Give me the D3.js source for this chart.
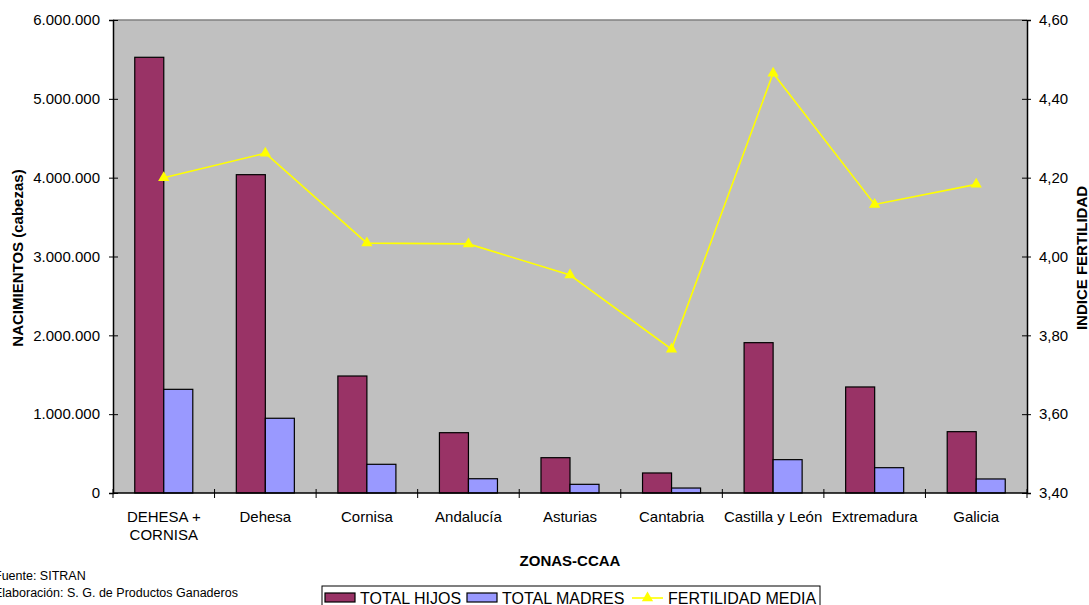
<!DOCTYPE html>
<html>
<head>
<meta charset="utf-8">
<script src="https://cdn.jsdelivr.net/npm/d3@7"></script>
<style>
  body { margin: 0; background: #fff; }
  svg { font-family: "Liberation Sans", Arial, sans-serif; }
</style>
</head>
<body>
<div id="chart"></div>
<script>
// data
var zonas = ["DEHESA + CORNISA", "Dehesa", "Cornisa", "Andalucía", "Asturias", "Cantabria", "Castilla y León", "Extremadura", "Galicia"];
var totalHijos = [5527000, 4038000, 1484000, 765000, 448000, 254000, 1907000, 1345000, 778000];
var totalMadres = [1315000, 948000, 364000, 181000, 110000, 63000, 423000, 321000, 178000];
var fertilidad = [4.20, 4.262, 4.034, 4.032, 3.953, 3.765, 4.465, 4.132, 4.183];
var leftTicks = [0, 1000000, 2000000, 3000000, 4000000, 5000000, 6000000];
var rightTicks = [3.40, 3.60, 3.80, 4.00, 4.20, 4.40, 4.60];

var W = 1089, H = 605;
var margin = {top: 20, right: 62, bottom: 112, left: 113},
    width = W - margin.left - margin.right,
    height = H - margin.top - margin.bottom;

var loc = d3.formatLocale({decimal: ",", thousands: ".", grouping: [3], currency: ["", "€"]});
var fmtLeft = loc.format(",d"),
    fmtRight = loc.format(".2f");

var svg = d3.select("#chart").append("svg")
    .attr("width", W)
    .attr("height", H);

var g = svg.append("g")
    .attr("transform", "translate(" + margin.left + "," + margin.top + ")");

var x = d3.scaleBand().domain(zonas).range([0, width]);
var y = d3.scaleLinear().domain([0, 6000000]).range([height, 0]);
var y2 = d3.scaleLinear().domain([3.4, 4.6]).range([height, 0]);
// two bars per category, gap width 150%
var barW = x.bandwidth() / 3.5;
var x1 = d3.scaleBand().domain(["hijos", "madres"]).range([0, barW * 2]);

// plot area
g.append("rect")
    .attr("width", width)
    .attr("height", height)
    .attr("fill", "#c0c0c0");
g.append("line")
    .attr("x1", 0).attr("x2", width)
    .attr("y1", 0).attr("y2", 0)
    .attr("stroke", "#808080").attr("stroke-width", 1.5);

var groups = g.selectAll(".grupo")
    .data(zonas)
    .enter().append("g")
    .attr("class", "grupo")
    .attr("transform", function (d) { return "translate(" + (x(d) + (x.bandwidth() - barW * 2) / 2) + ",0)"; });

groups.append("rect")
    .attr("x", x1("hijos"))
    .attr("width", x1.bandwidth())
    .attr("y", function (d, i) { return y(totalHijos[i]); })
    .attr("height", function (d, i) { return height - y(totalHijos[i]); })
    .attr("fill", "#993366")
    .attr("stroke", "#000").attr("stroke-width", 1.2);

groups.append("rect")
    .attr("x", x1("madres"))
    .attr("width", x1.bandwidth())
    .attr("y", function (d, i) { return y(totalMadres[i]); })
    .attr("height", function (d, i) { return height - y(totalMadres[i]); })
    .attr("fill", "#9999ff")
    .attr("stroke", "#000").attr("stroke-width", 1.2);

// fertility line on the secondary axis
var line = d3.line()
    .x(function (d, i) { return x(zonas[i]) + x.bandwidth() / 2; })
    .y(function (d) { return y2(d); });

g.append("path")
    .datum(fertilidad)
    .attr("d", line)
    .attr("fill", "none")
    .attr("stroke", "#ffff00")
    .attr("stroke-width", 1.6);

var tri = d3.symbol().type(d3.symbolTriangle).size(55);
g.selectAll(".marca")
    .data(fertilidad)
    .enter().append("path")
    .attr("class", "marca")
    .attr("d", tri)
    .attr("transform", function (d, i) { return "translate(" + (x(zonas[i]) + x.bandwidth() / 2) + "," + y2(d) + ")"; })
    .attr("fill", "#ffff00");

// axes
var yAxis = d3.axisLeft(y).tickValues(leftTicks).tickFormat(fmtLeft).tickSize(4).tickPadding(9);
var yAxis2 = d3.axisRight(y2).tickValues(rightTicks).tickFormat(fmtRight).tickSize(4).tickPadding(8);

var ga = g.append("g").call(yAxis);
ga.selectAll(".tick line").attr("x1", 5);
var gb = g.append("g").attr("transform", "translate(" + width + ",0)").call(yAxis2);
gb.selectAll(".tick line").attr("x1", -5);

[ga, gb].forEach(function (a) {
    a.select(".domain").attr("stroke", "#000").attr("stroke-width", 1.5);
    a.selectAll(".tick line").attr("stroke", "#000");
    a.selectAll("text").attr("font-size", 15).attr("fill", "#000")
        .attr("font-family", "Liberation Sans, Arial, sans-serif");
});

// category axis, ticks between categories
var gx = g.append("g").attr("transform", "translate(0," + height + ")");
gx.append("line").attr("x1", 0).attr("x2", width).attr("stroke", "#000").attr("stroke-width", 1.5);
gx.selectAll(".sep")
    .data(d3.range(zonas.length + 1))
    .enter().append("line")
    .attr("x1", function (i) { return i * x.step(); })
    .attr("x2", function (i) { return i * x.step(); })
    .attr("y1", -4).attr("y2", 5)
    .attr("stroke", "#000");
gx.selectAll(".lab")
    .data(zonas)
    .enter().append("text")
    .attr("text-anchor", "middle")
    .attr("font-size", 15)
    .attr("x", function (d) { return x(d) + x.bandwidth() / 2; })
    .attr("y", 29)
    .each(function (d) {
        var parts = d === "DEHESA + CORNISA" ? ["DEHESA +", "CORNISA"] : [d];
        var t = d3.select(this);
        parts.forEach(function (p, k) {
            t.append("tspan").attr("x", x(d) + x.bandwidth() / 2).attr("dy", k ? 18 : 0).text(p);
        });
    });

// axis titles
svg.append("text")
    .attr("transform", "translate(23,258) rotate(-90)")
    .attr("text-anchor", "middle")
    .attr("font-size", 15).attr("font-weight", "bold")
    .text("NACIMIENTOS (cabezas)");

svg.append("text")
    .attr("transform", "translate(1086.5,258) rotate(-90)")
    .attr("text-anchor", "middle")
    .attr("font-size", 15).attr("font-weight", "bold")
    .text("INDICE FERTILIDAD");

svg.append("text")
    .attr("x", margin.left + width / 2)
    .attr("y", 566)
    .attr("text-anchor", "middle")
    .attr("font-size", 15).attr("font-weight", "bold")
    .text("ZONAS-CCAA");

// source notes
svg.append("text").attr("x", -6).attr("y", 580).attr("font-size", 12.5).text("Fuente: SITRAN");
svg.append("text").attr("x", -6).attr("y", 597).attr("font-size", 12.5).text("Elaboración: S. G. de Productos Ganaderos");

// legend
var lg = svg.append("g").attr("transform", "translate(322,586)");
lg.append("rect").attr("width", 498).attr("height", 24)
    .attr("fill", "#fff").attr("stroke", "#000").attr("stroke-width", 1);
var items = [
    {name: "TOTAL HIJOS", color: "#993366", type: "bar", x: 3},
    {name: "TOTAL MADRES", color: "#9999ff", type: "bar", x: 145},
    {name: "FERTILIDAD MEDIA", color: "#ffff00", type: "line", x: 310}
];
items.forEach(function (it) {
    var ig = lg.append("g").attr("transform", "translate(" + it.x + ",0)");
    if (it.type === "bar") {
        ig.append("rect").attr("x", 0).attr("y", 7).attr("width", 30).attr("height", 9)
            .attr("fill", it.color).attr("stroke", "#000").attr("stroke-width", 1.2);
    } else {
        ig.append("line").attr("x1", 0).attr("x2", 31).attr("y1", 12).attr("y2", 12)
            .attr("stroke", it.color).attr("stroke-width", 1.6);
        ig.append("path").attr("d", tri).attr("transform", "translate(15.5,12)").attr("fill", it.color);
    }
    ig.append("text").attr("x", it.type === "bar" ? 35 : 36).attr("y", 18)
        .attr("font-size", 16).text(it.name);
});
</script>
</body>
</html>
